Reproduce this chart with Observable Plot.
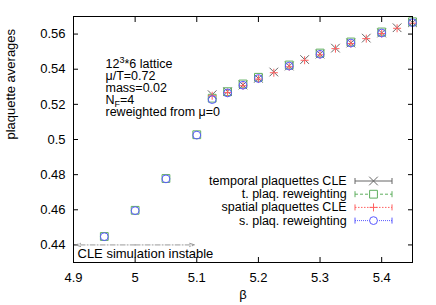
<!DOCTYPE html>
<html><head><meta charset="utf-8">
<script src="https://cdn.jsdelivr.net/npm/d3@7"></script>
<script src="https://cdn.jsdelivr.net/npm/@observablehq/plot@0.6"></script>
<style>body{margin:0;background:#fff}</style>
</head><body><div id="chart"></div>
<script>
// ---- data ----
const betaRw = [4.95, 5.0, 5.05, 5.1, 5.125, 5.15, 5.175, 5.2, 5.25, 5.3, 5.35, 5.4, 5.45];
const tPlaqRw = [0.4448, 0.4597, 0.4778, 0.5027, 0.5235, 0.5272, 0.5316, 0.5354, 0.5424, 0.5492, 0.5555, 0.5612, 0.5670];
const sPlaqRw = [0.4447, 0.4595, 0.4776, 0.5025, 0.5227, 0.5265, 0.5309, 0.5347, 0.5418, 0.5485, 0.5549, 0.5606, 0.5665];
const betaCle = [5.125, 5.15, 5.175, 5.2, 5.225, 5.25, 5.275, 5.3, 5.325, 5.35, 5.375, 5.4, 5.425, 5.45];
const tPlaqCle = [0.5255, 0.5272, 0.5310, 0.5348, 0.5384, 0.5418, 0.5455, 0.5486, 0.5520, 0.5549, 0.5577, 0.5606, 0.5636, 0.5665];
const sPlaqCle = [0.5249, 0.5267, 0.5306, 0.5344, 0.5380, 0.5414, 0.5451, 0.5482, 0.5517, 0.5546, 0.5574, 0.5603, 0.5633, 0.5662];
const xTicks = [4.9, 5.0, 5.1, 5.2, 5.3, 5.4];
const yTicks = [0.44, 0.46, 0.48, 0.5, 0.52, 0.54, 0.56];
const seriesNames = ["temporal plaquettes CLE", "t. plaq. reweighting", "spatial plaquettes CLE", "s. plaq. reweighting"];
const annotLines = ["12^3*6 lattice", "\u03bc/T=0.72", "mass=0.02", "N_F=4", "reweighted from \u03bc=0"];
const instableLabel = "CLE simulation instable";
const instableRange = [4.9, 5.1];
const instableY = 0.44;
const xLabel = "\u03b2";
const yLabel = "plaquette averages";

// ---- styles ----
const colors = ["#666666", "#5fae5f", "#ff6060", "#5a5aff"];
const symbols = ["times", "square", "plus", "circle"];
const radii = [4.0, 4.4, 2.7, 3.9];
const dashes = [null, "3,2", "1.5,1.5", "1,1"];
const smallFont = 12.5;

const fmt = d3.format("~g");
const toRows = (xs, ys) => xs.map((b, i) => ({beta: b, v: ys[i]}));
const seriesData = [toRows(betaCle, tPlaqCle), toRows(betaRw, tPlaqRw), toRows(betaCle, sPlaqCle), toRows(betaRw, sPlaqRw)];
const mid = (instableRange[0] + instableRange[1]) / 2;
const arrows = instableRange.map(e => ({x1: mid, x2: e, y: instableY}));

function legendMark(index, scales, values, dims) {
  const g = d3.create("svg:g").attr("font-family", "'Liberation Sans', Arial, sans-serif").attr("font-size", smallFont);
  const left = dims.marginLeft;
  const top = dims.marginTop;
  seriesNames.forEach((name, i) => {
    const y = top + 165 + i * 13.2;
    const xa = left + 282, xb = left + 319, xm = (xa + xb) / 2;
    g.append("text").attr("x", left + 273.7).attr("y", y).attr("dy", "0.32em")
      .attr("text-anchor", "end").attr("fill", "#000").text(name);
    const s = g.append("g").attr("stroke", colors[i]).attr("fill", "none").attr("stroke-width", 1);
    s.append("line").attr("x1", xa).attr("x2", xb).attr("y1", y).attr("y2", y).attr("stroke-dasharray", dashes[i]);
    s.append("line").attr("x1", xa).attr("x2", xa).attr("y1", y - 3).attr("y2", y + 3);
    s.append("line").attr("x1", xb).attr("x2", xb).attr("y1", y - 3).attr("y2", y + 3);
    if (symbols[i] === "circle") {
      s.append("circle").attr("cx", xm).attr("cy", y).attr("r", radii[i]).attr("fill", "#fff");
    } else {
      const type = {times: d3.symbolTimes, square: d3.symbolSquare, plus: d3.symbolPlus}[symbols[i]];
      s.append("path").attr("transform", `translate(${xm},${y})`)
        .attr("fill", symbols[i] === "square" ? "#fff" : "none")
        .attr("d", d3.symbol().type(type).size(Math.PI * radii[i] * radii[i])());
    }
  });
  return g.node();
}

const chart = Plot.plot({
  width: 436, height: 305,
  marginLeft: 73, marginRight: 24, marginTop: 16, marginBottom: 43,
  style: {fontFamily: "'Liberation Sans', Arial, sans-serif", fontSize: "13px", background: "#fff", color: "#000", overflow: "visible"},
  x: {domain: [4.9, 5.45]},
  y: {domain: [0.43, 0.57]},
  marks: [
    Plot.axisX(xTicks, {anchor: "bottom", tickSize: -5, tickPadding: 15, tickFormat: fmt, label: null}),
    Plot.axisX(xTicks, {anchor: "top", tickSize: -5, tickFormat: () => "", label: null}),
    Plot.axisY(yTicks, {anchor: "left", tickSize: -5, tickPadding: 13, tickFormat: fmt, label: null}),
    Plot.axisY(yTicks, {anchor: "right", tickSize: -5, tickFormat: () => "", label: null}),
    Plot.arrow(arrows, {x1: "x1", x2: "x2", y1: "y", y2: "y", stroke: "#999", strokeWidth: 1, strokeDasharray: "5,2,1,2", headLength: 8, headAngle: 35, insetEnd: 2}),
    Plot.text([instableLabel], {text: d => d, frameAnchor: "bottom-left", dx: 4, dy: -8.5, textAnchor: "start", lineAnchor: "middle"}),
    ...annotLines.map((t, i) => Plot.text([t], {text: d => d, frameAnchor: "top-left", dx: 32, dy: 47.1 + 12 * i, textAnchor: "start", lineAnchor: "middle", fontSize: smallFont})),
    ...seriesData.map((data, i) => Plot.dot(data, {x: "beta", y: "v", symbol: symbols[i], r: radii[i], stroke: colors[i], strokeWidth: 1, fill: "none"})),
    legendMark,
    Plot.text([xLabel], {text: d => d, frameAnchor: "bottom", dy: 32.8, lineAnchor: "middle"}),
    Plot.text([yLabel], {text: d => d, frameAnchor: "left", dx: -62.5, rotate: -90, lineAnchor: "middle"}),
    Plot.frame({stroke: "#000"})
  ]
});

// sub/superscripts
chart.querySelectorAll("text").forEach(t => {
  const s = t.textContent;
  if (s === "N_F=4") {
    t.textContent = "";
    d3.select(t).append("tspan").text("N");
    d3.select(t).append("tspan").attr("font-size", 9).attr("dy", 3).text("F");
    d3.select(t).append("tspan").attr("dy", -3).text("=4");
  } else if (s === "12^3*6 lattice") {
    t.textContent = "";
    d3.select(t).append("tspan").text("12");
    d3.select(t).append("tspan").attr("font-size", 9).attr("dy", -5).text("3");
    d3.select(t).append("tspan").attr("dy", 5).text("*6 lattice");
  }
});
document.getElementById("chart").appendChild(chart);
</script>
</body></html>
